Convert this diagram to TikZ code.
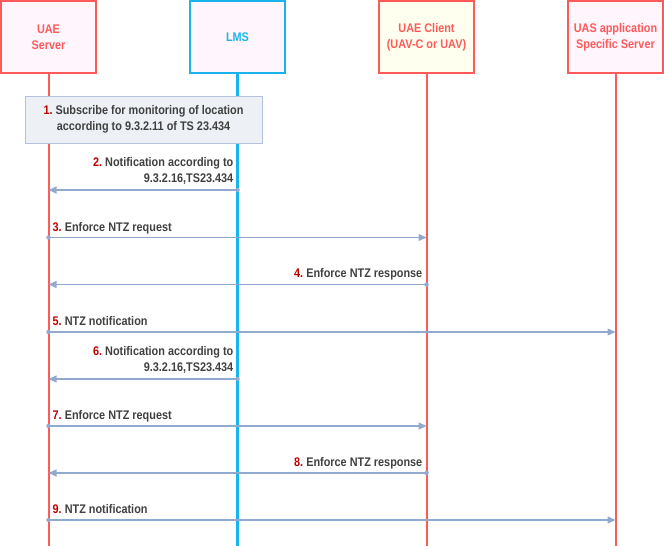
\documentclass[tikz,border=0pt]{standalone}
\usepackage{fontspec}
\setmainfont{Liberation Sans}[FakeStretch=0.87]
\usetikzlibrary{arrows.meta,positioning}

\definecolor{uaered}{HTML}{FF5A5A}
\definecolor{lmsblue}{HTML}{1AB4EC}
\definecolor{pinkfill}{HTML}{FEF5FD}
\definecolor{yellowfill}{HTML}{FFFFF0}
\definecolor{msgline}{HTML}{92A9CF}
\definecolor{numred}{HTML}{C00000}
\definecolor{txtgray}{HTML}{404040}
\definecolor{notefill}{HTML}{EDF1F6}
\definecolor{noteline}{HTML}{B2C2DA}

\newcommand{\stepnum}[1]{\textcolor{numred}{#1.}\ }

\begin{document}
\begin{tikzpicture}[x=1pt, y=-1pt,
                    font=\bfseries\fontsize{12.5}{16}\selectfont,
                    entity/.style={draw, line width=2pt, minimum width=95pt, minimum height=72pt,
                                   align=center, inner sep=0pt},
                    lifeline/.style={line width=2pt},
                    msg/.style={draw=msgline, line width=1.3pt, -{Triangle[length=8pt,width=7pt]}},
                    startdot/.style={circle, fill=msgline, inner sep=0pt, minimum size=4.5pt},
                    lbl/.style={text=txtgray, inner sep=0pt, text depth=0pt, align=right}]

  \useasboundingbox (0,0) rectangle (664,546);

  % participants
  \node[entity, draw=uaered, fill=pinkfill, text=uaered] (server) at (48.5,37) {UAE\\Server};
  \node[entity, draw=lmsblue, fill=pinkfill, text=lmsblue] (lms) at (237.5,37) {LMS};
  \node[entity, draw=uaered, fill=yellowfill, text=uaered] (client) at (426.5,37) {UAE Client\\(UAV-C or UAV)};
  \node[entity, draw=uaered, fill=pinkfill, text=uaered] (uas) at (615.5,37) {UAS application\\Specific Server};

  % lifelines
  \coordinate (server end) at (48.5,546);
  \coordinate (lms end) at (237.5,546);
  \coordinate (client end) at (426.5,546);
  \coordinate (uas end) at (615.5,546);
  \draw[lifeline, uaered] (server.south) -- (server end);
  \draw[lifeline, lmsblue, line width=2.4pt] (lms.south) -- (lms end);
  \draw[lifeline, uaered] (client.south) -- (client end);
  \draw[lifeline, uaered] (uas.south) -- (uas end);

  % step 1
  \node[draw=noteline, fill=notefill, text=txtgray, line width=1pt, minimum width=237pt,
        minimum height=47pt, align=center] (note) at (143.5,119.5)
        {\stepnum{1}Subscribe for monitoring of location\\according to 9.3.2.11 of TS 23.434};

  % points on the lifelines
  \foreach \n/\y in {2/190,3/237.5,4/284.5,5/332,6/379,7/426,8/473,9/520}{
    \coordinate (server-\n) at (48.5,\y);
    \coordinate (lms-\n) at (237.5,\y);
    \coordinate (client-\n) at (426.5,\y);
    \coordinate (uas-\n) at (615.5,\y);
  }

  % messages
  \draw[msg] (lms-2) -- (server-2);
  \node[startdot] at (lms-2) {};
  \node[lbl, anchor=south east, xshift=-4pt, yshift=7pt] (label2) at (lms-2)
       {\stepnum{2}Notification according to\\9.3.2.16,TS23.434};

  \draw[msg] (server-3) -- (client-3);
  \node[startdot] at (server-3) {};
  \node[lbl, anchor=south west, xshift=4pt, yshift=6pt] (label3) at (server-3)
       {\stepnum{3}Enforce NTZ request};

  \draw[msg] (client-4) -- (server-4);
  \node[startdot] at (client-4) {};
  \node[lbl, anchor=south east, xshift=-4pt, yshift=6.5pt] (label4) at (client-4)
       {\stepnum{4}Enforce NTZ response};

  \draw[msg] (server-5) -- (uas-5);
  \node[startdot] at (server-5) {};
  \node[lbl, anchor=south west, xshift=4pt, yshift=6pt] (label5) at (server-5)
       {\stepnum{5}NTZ notification};

  \draw[msg] (lms-6) -- (server-6);
  \node[startdot] at (lms-6) {};
  \node[lbl, anchor=south east, xshift=-4pt, yshift=7pt] (label6) at (lms-6)
       {\stepnum{6}Notification according to\\9.3.2.16,TS23.434};

  \draw[msg] (server-7) -- (client-7);
  \node[startdot] at (server-7) {};
  \node[lbl, anchor=south west, xshift=4pt, yshift=6pt] (label7) at (server-7)
       {\stepnum{7}Enforce NTZ request};

  \draw[msg] (client-8) -- (server-8);
  \node[startdot] at (client-8) {};
  \node[lbl, anchor=south east, xshift=-4pt, yshift=6.5pt] (label8) at (client-8)
       {\stepnum{8}Enforce NTZ response};

  \draw[msg] (server-9) -- (uas-9);
  \node[startdot] at (server-9) {};
  \node[lbl, anchor=south west, xshift=4pt, yshift=6pt] (label9) at (server-9)
       {\stepnum{9}NTZ notification};
\end{tikzpicture}
\end{document}
